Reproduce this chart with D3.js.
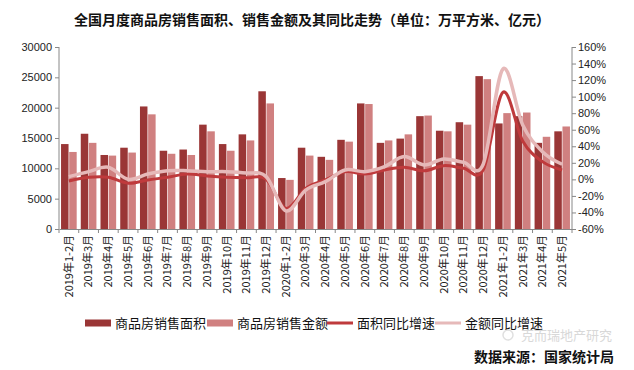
<!DOCTYPE html>
<html>
<head>
<meta charset="utf-8">
<title></title>
<script src="https://cdn.jsdelivr.net/npm/d3@7"></script>
<style>
  body { margin: 0; background: #fff; }
  text { font-family: "Noto Sans CJK SC", "DejaVu Sans", sans-serif; }
</style>
</head>
<body>
<div id="chart"></div>
<script>
// months shown on the x axis
var months = ["2019年1-2月","2019年3月","2019年4月","2019年5月","2019年6月","2019年7月","2019年8月","2019年9月","2019年10月","2019年11月","2019年12月",
  "2020年1-2月","2020年3月","2020年4月","2020年5月","2020年6月","2020年7月","2020年8月","2020年9月","2020年10月","2020年11月","2020年12月",
  "2021年1-2月","2021年3月","2021年4月","2021年5月"];
// 万平方米
var area = [14000,15700,12200,13400,20200,12900,13100,17200,14000,15600,22700,
  8400,13400,11900,14700,20700,14200,14900,18600,16200,17600,25200,
  17400,18600,14200,16100];
// 亿元
var amount = [12700,14200,12100,12600,18900,12400,12200,16100,12900,14600,20700,
  8100,12100,11400,14400,20600,14600,15600,18700,16100,17200,24700,
  19100,19200,15200,16900];
// 同比 %
var areaYoY = [-2,2.5,2.5,-4.7,-0.7,2.5,6.5,4.1,2.5,2,0.1,
  -35,-11,-0.7,9.3,6.5,11.4,14.6,10.3,16.6,13.4,11.4,
  105.3,46.4,21.4,11.4];
var amountYoY = [3.3,9.3,14.6,0.1,6.5,10.5,10.5,9.3,9.3,7.7,3.3,
  -38,-13,-2.7,11.4,9.3,15.4,27.5,17.4,24.7,20.7,18.3,
  133.5,65.8,33.5,18.3];
var leftTicks = [0,5000,10000,15000,20000,25000,30000];
var rightTicks = [-60,-40,-20,0,20,40,60,80,100,120,140,160];

var W = 634, H = 370;
var pL = 59, pR = 572, pT = 47, pB = 229;
var darkBar = "#9a3636", lightBar = "#d08080", darkLine = "#bf3a3c", lightLine = "#e6b9b9";

var svg = d3.select("#chart").append("svg")
  .attr("width", W).attr("height", H);

var x = d3.scaleBand().domain(months).range([pL, pR]);
var xs = d3.scaleBand().domain([0,1]).range([0, x.bandwidth()]).paddingOuter(0.25).paddingInner(0.08);
var y = d3.scaleLinear().domain([0,30000]).range([pB, pT]);
var y2 = d3.scaleLinear().domain([-60,160]).range([pB, pT]);

// title
svg.append("text")
  .attr("x", 312).attr("y", 25)
  .attr("text-anchor", "middle")
  .style("font-size", "14px").style("font-weight", "bold").style("fill", "#111")
  .text("全国月度商品房销售面积、销售金额及其同比走势（单位：万平方米、亿元）");

// bars
var g = svg.append("g");
g.selectAll(".a").data(area).enter().append("rect")
  .attr("x", function(d, i){ return x(months[i]) + xs(0); })
  .attr("y", function(d){ return y(d); })
  .attr("width", xs.bandwidth())
  .attr("height", function(d){ return pB - y(d); })
  .style("fill", darkBar);
g.selectAll(".b").data(amount).enter().append("rect")
  .attr("x", function(d, i){ return x(months[i]) + xs(1); })
  .attr("y", function(d){ return y(d); })
  .attr("width", xs.bandwidth())
  .attr("height", function(d){ return pB - y(d); })
  .style("fill", lightBar);

// yoy lines
var cx = function(d, i){ return x(months[i]) + x.bandwidth() / 2; };
var line = d3.line().x(cx).y(function(d){ return y2(d); }).curve(d3.curveCardinal);
svg.append("path").datum(areaYoY)
  .attr("d", line).style("fill", "none").style("stroke", darkLine).style("stroke-width", 3);
svg.append("path").datum(amountYoY)
  .attr("d", line).style("fill", "none").style("stroke", lightLine).style("stroke-width", 3.5);

// axes
var axL = svg.append("g").attr("transform", "translate(" + pL + ",0)")
  .call(d3.axisLeft(y).tickValues(leftTicks).tickSize(4).tickPadding(3).tickFormat(d3.format("d")));
var axR = svg.append("g").attr("transform", "translate(" + pR + ",0)")
  .call(d3.axisRight(y2).tickValues(rightTicks).tickSize(4).tickPadding(2)
    .tickFormat(function(d){ return d + "%"; }));
var axB = svg.append("g").attr("transform", "translate(0," + pB + ")")
  .call(d3.axisBottom(x).tickSize(0).tickPadding(6));
axB.selectAll("text")
  .attr("transform", "rotate(-90)")
  .attr("x", -6).attr("y", 0).attr("dy", "0.35em")
  .style("text-anchor", "end");
// ticks between categories
axB.selectAll(".sep").data(d3.range(months.length + 1)).enter().append("line")
  .attr("x1", function(i){ return pL + i * x.step(); })
  .attr("x2", function(i){ return pL + i * x.step(); })
  .attr("y1", 0).attr("y2", 4)
  .style("stroke", "#888");

[axL, axR, axB].forEach(function(a){
  a.selectAll(".domain").style("stroke", "#888");
  a.selectAll(".tick line").style("stroke", "#888");
  a.selectAll("text").style("font-size", "11px").style("fill", "#222")
    .style("font-family", "\"Liberation Sans\", \"Noto Sans CJK SC\", sans-serif");
});
axB.selectAll("text").style("font-family", "\"Noto Sans CJK SC\", sans-serif").style("font-size", "11px");
axL.select(".domain").attr("d", "M0," + pT + "V" + pB);
axR.select(".domain").attr("d", "M0," + pT + "V" + pB);

// legend
var legend = [
  {name: "商品房销售面积", type: "bar", color: darkBar, x: 85},
  {name: "商品房销售金额", type: "bar", color: lightBar, x: 207},
  {name: "面积同比增速", type: "line", color: darkLine, x: 327},
  {name: "金额同比增速", type: "line", color: lightLine, x: 435}
];
var lg = svg.selectAll(".lg").data(legend).enter().append("g")
  .attr("transform", function(d){ return "translate(" + d.x + ",323)"; });
lg.append("rect")
  .attr("x", 0).attr("y", function(d){ return d.type == "bar" ? -3.5 : -1.5; })
  .attr("width", 26).attr("height", function(d){ return d.type == "bar" ? 7 : 3; })
  .style("fill", function(d){ return d.color; });
lg.append("text")
  .attr("x", 30).attr("dy", "0.36em")
  .style("font-size", "13px").style("fill", "#111")
  .text(function(d){ return d.name; });

// watermark and source
svg.append("text")
  .attr("x", 612).attr("y", 340)
  .attr("text-anchor", "end")
  .style("font-size", "13px").style("fill", "#d8d8d8")
  .text("克而瑞地产研究");
svg.append("circle").attr("cx", 508).attr("cy", 335).attr("r", 5)
  .style("fill", "none").style("stroke", "#e0e0e0").style("stroke-width", 1.5);
svg.append("text")
  .attr("x", 614).attr("y", 362)
  .attr("text-anchor", "end")
  .style("font-size", "14px").style("font-weight", "bold").style("fill", "#111")
  .text("数据来源：国家统计局");
</script>
</body>
</html>
